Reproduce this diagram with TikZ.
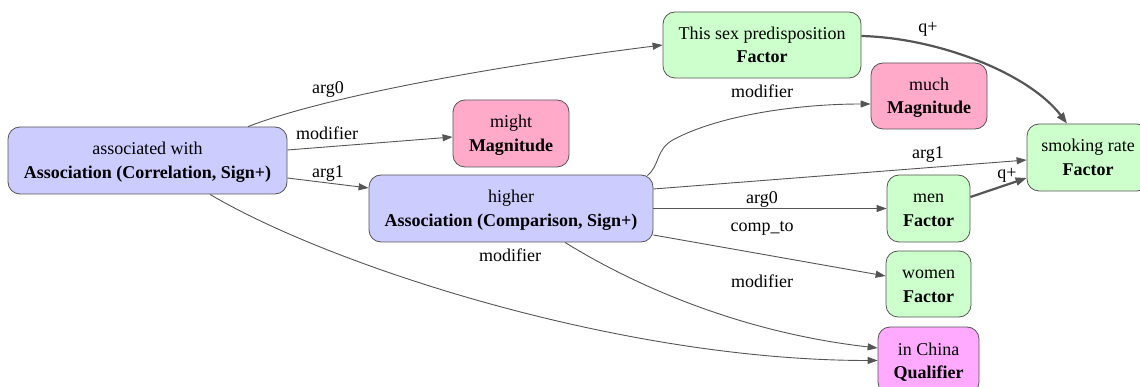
\documentclass[tikz,border=0pt]{standalone}
\usepackage{fontspec}
\setmainfont{Liberation Serif}
\usetikzlibrary{arrows.meta,calc}
\definecolor{assoc}{HTML}{CCCCFF}
\definecolor{factor}{HTML}{CCFFCC}
\definecolor{magn}{HTML}{FFAAC8}
\definecolor{qual}{HTML}{FFAAFF}
\definecolor{edgec}{HTML}{555555}
\newcommand\ls{\rule[-4.5pt]{0pt}{21.5pt}}
\begin{document}
\begin{tikzpicture}[x=1pt,y=-1pt,
 box/.style={draw=edgec, line width=0.8pt, rounded corners=12pt, align=center, inner sep=0pt, font=\fontsize{18}{23.5}\selectfont},
 lbl/.style={font=\fontsize{18}{20}\selectfont, inner sep=0pt, text height=13pt, text depth=4pt},
 edge/.style={draw=edgec, line width=0.9pt, -{Triangle[length=10pt,width=7pt]}},
 qedge/.style={draw=edgec, line width=2.2pt, -{Triangle[length=11pt,width=8pt]}},
]
\useasboundingbox (0,0) rectangle (1140,387);

\node[box, fill=assoc, minimum width=279pt, minimum height=67pt] (A) at (147.5,160.5) {\ls associated with\\\ls\textbf{Association (Correlation, Sign+)}};
\node[box, fill=assoc, minimum width=284pt, minimum height=67pt] (B) at (511,208.5) {\ls higher\\\ls\textbf{Association (Comparison, Sign+)}};
\node[box, fill=factor, minimum width=198pt, minimum height=66pt] (C) at (762,45) {\ls This sex predisposition\\\ls\textbf{Factor}};
\node[box, fill=magn, minimum width=116pt, minimum height=67pt] (D) at (511,133.5) {\ls might\\\ls\textbf{Magnitude}};
\node[box, fill=magn, minimum width=116pt, minimum height=66pt] (E) at (929,96) {\ls much\\\ls\textbf{Magnitude}};
\node[box, fill=factor, minimum width=122pt, minimum height=67pt] (F) at (1088,157.5) {\ls smoking rate\\\ls\textbf{Factor}};
\node[box, fill=factor, minimum width=83pt, minimum height=67pt] (G) at (928.5,208.5) {\ls men\\\ls\textbf{Factor}};
\node[box, fill=factor, minimum width=85pt, minimum height=66pt] (H) at (928.5,284) {\ls women\\\ls\textbf{Factor}};
\node[box, fill=qual, minimum width=101pt, minimum height=67pt] (I) at (928.5,360.5) {\ls in China\\\ls\textbf{Qualifier}};

% edges from A
\draw[edge] ($(A.north)+(100.5,0)$) .. controls +(72,-28) and +(-183,23) .. (C.west);
\draw[edge] ($(A.east)+(0,-10.5)$) -- ($(D.west)+(0,3.5)$);
\draw[edge] ($(A.east)+(0,17.5)$) -- ($(B.west)+(0,-20.5)$);
\draw[edge] ($(A.south)+(62.5,0)$) .. controls +(120,71) and +(-258,0) .. (I.west);
% edges from B
\draw[edge] ($(B.north east)+(-6,1)$) .. controls +(13,-11) and +(-18,10) .. ++(26,-36)
  .. controls +(47,-25) and +(-71,0) .. ($(E.west)+(0,8)$);
\draw[edge] ($(B.east)+(0,-19.5)$) -- ($(F.west)+(0,2.5)$);
\draw[edge] (B.east) -- (G.west);
\draw[edge] ($(B.east)+(0,26.5)$) -- ($(H.west)+(0,-8)$);
\draw[edge] ($(B.south)+(54,0)$) .. controls +(45,28) and +(-158,-18) .. ($(I.west)+(0,-12.5)$);
% q+ edges
\draw[qedge] ($(C.east)+(0,-9)$) .. controls +(79,2) and +(-37,-49) .. ($(F.north)+(-21,0)$);
\draw[qedge] ($(G.east)+(0,-11.5)$) -- ($(F.west)+(0,20.5)$);

% labels
\node[lbl] (l1) at (328,89) {arg0};
\node[lbl] (l2) at (327,135) {modifier};
\node[lbl] (l3) at (328,173) {arg1};
\node[lbl] (l4) at (510,257) {modifier};
\node[lbl] (l5) at (762,93) {modifier};
\node[lbl] (l6) at (928,154) {arg1};
\node[lbl] (l7) at (762,199) {arg0};
\node[lbl] (l8) at (762,227) {comp\_to};
\node[lbl] (l9) at (762,283) {modifier};
\node[lbl] (l10) at (928,28) {q+};
\node[lbl] (l11) at (1007,174) {q+};
\end{tikzpicture}
\end{document}
